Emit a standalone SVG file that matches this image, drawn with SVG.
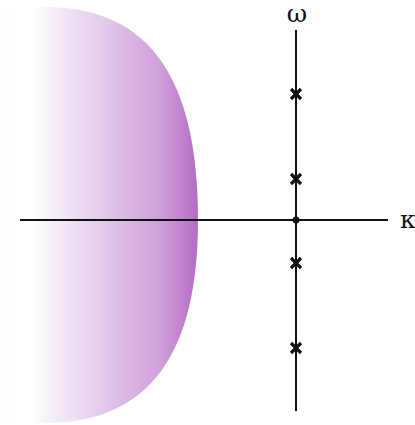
<svg xmlns="http://www.w3.org/2000/svg" width="415" height="425" viewBox="0 0 415 425">
<defs>
<linearGradient id="g" x1="0" y1="0" x2="200" y2="0" gradientUnits="userSpaceOnUse">
<stop offset="0" stop-color="#fbfeff"/>
<stop offset="0.15" stop-color="#ffffff"/>
<stop offset="0.5" stop-color="#e3ccec"/>
<stop offset="0.8" stop-color="#d09fdb"/>
<stop offset="1" stop-color="#b468c4"/>
</linearGradient>
<style>
.ax{stroke:#111;stroke-width:2;fill:none}
.x{stroke:#111;stroke-width:3.2;stroke-linecap:butt}
.lbl{font-family:"DejaVu Serif","Liberation Serif",serif;font-size:25px;fill:#111}
</style>
</defs>
<path id="region" d="M0,7 L45,7 C152,7 198,82 198,220 C198,350 152,423 45,423 L0,423 Z" fill="url(#g)"/>
<g id="connectors">
<line class="ax" x1="20" y1="220" x2="388" y2="220"/>
<line class="ax" x1="296" y1="30" x2="296" y2="411"/>
</g>
<g id="origin"><circle cx="296" cy="220" r="3.5" fill="#111"/></g>
<g id="p1"><path class="x" d="M291,89 L301,99 M301,89 L291,99"/></g>
<g id="p2"><path class="x" d="M291,174 L301,184 M301,174 L291,184"/></g>
<g id="p3"><path class="x" d="M291,258 L301,268 M301,258 L291,268"/></g>
<g id="p4"><path class="x" d="M291,343 L301,353 M301,343 L291,353"/></g>
<g id="omega"><text class="lbl" x="297" y="22" text-anchor="middle">ω</text></g>
<g id="kappa"><text class="lbl" x="400" y="228">κ</text></g>
</svg>
